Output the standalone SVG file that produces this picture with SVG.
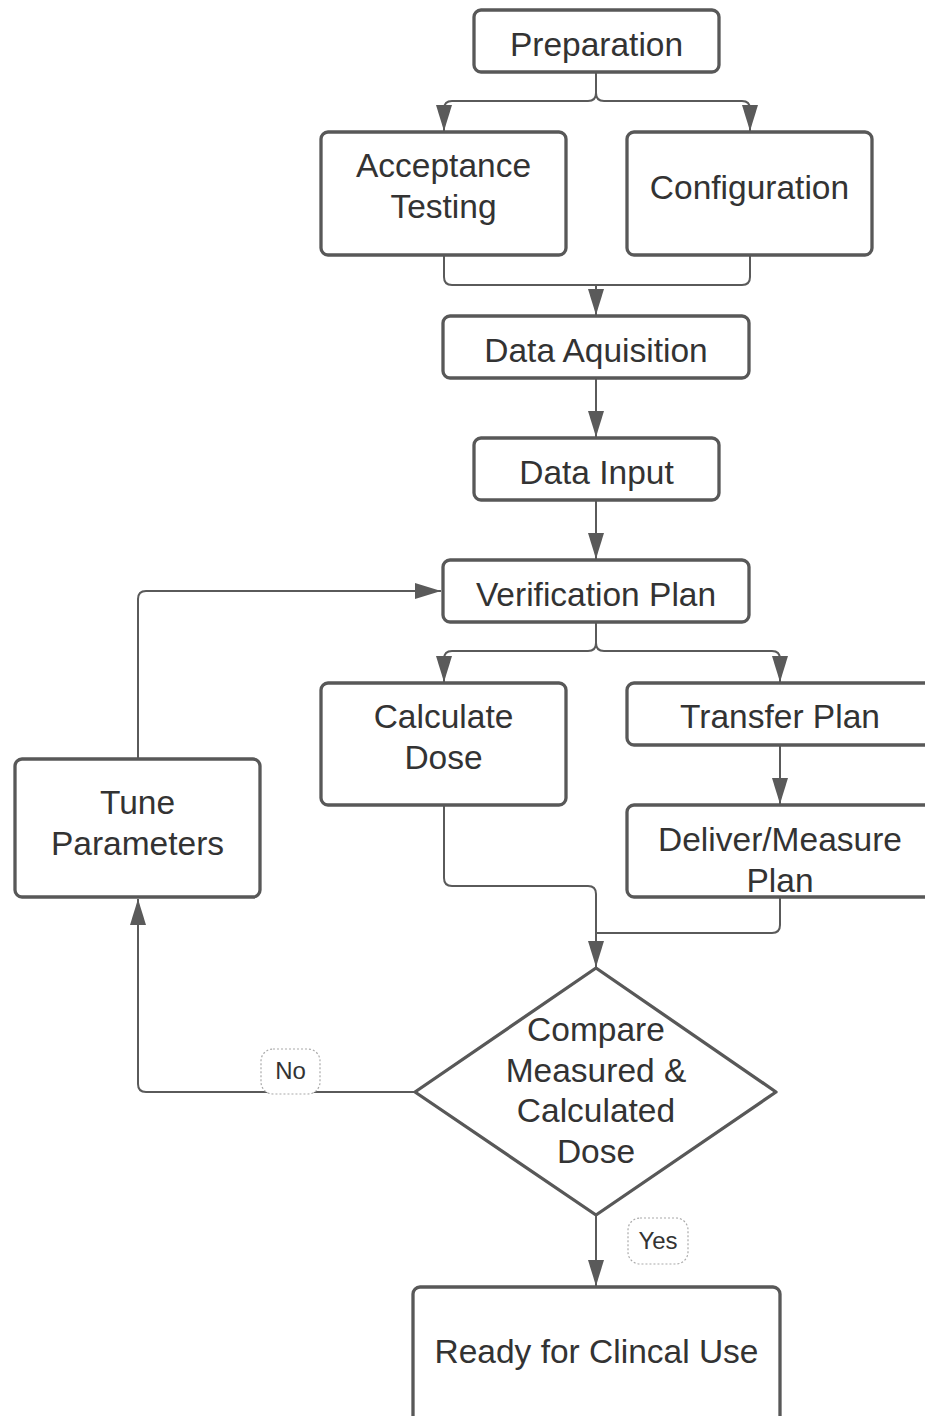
<svg xmlns="http://www.w3.org/2000/svg" width="925" height="1416" viewBox="0 0 925 1416">
<style>
.box{fill:#fff;stroke:#585858;stroke-width:3.3}
.t{font-family:"Liberation Sans",Arial,sans-serif;font-size:33.5px;fill:#333;text-anchor:middle}
.lt{font-family:"Liberation Sans",Arial,sans-serif;font-size:24px;fill:#333;text-anchor:middle}
.c{fill:none;stroke:#5a5a5a;stroke-width:2}
.a{marker-end:url(#ah)}
.lb{fill:#fff;stroke:#aaa;stroke-width:1.2;stroke-dasharray:2 2}
</style>
<defs>
<marker id="ah" markerUnits="userSpaceOnUse" markerWidth="26" markerHeight="16" refX="26" refY="8" orient="auto">
<path d="M0,0 L26,8 L0,16 z" fill="#5a5a5a"/>
</marker>
</defs>
<rect width="925" height="1416" fill="#fff"/>
<g id="connectors">
<path class="c a" d="M596,72 V93 Q596,101 588,101 H452 Q444,101 444,109 V131"/>
<path class="c a" d="M596,72 V93 Q596,101 604,101 H742 Q750,101 750,109 V131"/>
<path class="c" d="M444,256 V277 Q444,285 452,285 H742 Q750,285 750,277 V256"/>
<path class="c a" d="M596,285 V315"/>
<path class="c a" d="M596,378 V437"/>
<path class="c a" d="M596,500 V559"/>
<path class="c a" d="M596,622 V643 Q596,651 588,651 H452 Q444,651 444,659 V682"/>
<path class="c a" d="M596,622 V643 Q596,651 604,651 H772 Q780,651 780,659 V682"/>
<path class="c a" d="M780,745 V804"/>
<path class="c a" d="M444,805 V878 Q444,886 452,886 H588 Q596,886 596,894 V967"/>
<path class="c" d="M780,897 V925 Q780,933 772,933 H596"/>
<path class="c a" d="M415,1092 H146 Q138,1092 138,1084 V899"/>
<path class="c a" d="M138,759 V599 Q138,591 146,591 H441"/>
<path class="c a" d="M596,1215 V1286"/>
<g id="label-no"><rect class="lb" x="261" y="1049" width="59" height="45" rx="12"/><text class="lt" x="290.5" y="1079">No</text></g>
<g id="label-yes"><rect class="lb" x="628" y="1218" width="60" height="46" rx="12"/><text class="lt" x="658" y="1249">Yes</text></g>
</g>
<g id="preparation"><rect class="box" x="474" y="10" width="245" height="62" rx="7"/><text class="t" x="596.5" y="56">Preparation</text></g>
<g id="acceptance-testing"><rect class="box" x="321" y="132" width="245" height="123" rx="7"/><text class="t" x="443.5" y="177">Acceptance</text><text class="t" x="443.5" y="218">Testing</text></g>
<g id="configuration"><rect class="box" x="627" y="132" width="245" height="123" rx="7"/><text class="t" x="749.5" y="199">Configuration</text></g>
<g id="data-aquisition"><rect class="box" x="443" y="316" width="306" height="62" rx="7"/><text class="t" x="596" y="362">Data Aquisition</text></g>
<g id="data-input"><rect class="box" x="474" y="438" width="245" height="62" rx="7"/><text class="t" x="596.5" y="484">Data Input</text></g>
<g id="verification-plan"><rect class="box" x="443" y="560" width="306" height="62" rx="7"/><text class="t" x="596" y="606">Verification Plan</text></g>
<g id="calculate-dose"><rect class="box" x="321" y="683" width="245" height="122" rx="7"/><text class="t" x="443.5" y="728">Calculate</text><text class="t" x="443.5" y="769">Dose</text></g>
<g id="transfer-plan"><rect class="box" x="627" y="683" width="310" height="62" rx="7"/><text class="t" x="780" y="728">Transfer Plan</text></g>
<g id="deliver-measure-plan"><rect class="box" x="627" y="805" width="310" height="92" rx="7"/><text class="t" x="780" y="851">Deliver/Measure</text><text class="t" x="780" y="892">Plan</text></g>
<g id="tune-parameters"><rect class="box" x="15" y="759" width="245" height="138" rx="7"/><text class="t" x="137.5" y="814">Tune</text><text class="t" x="137.5" y="855">Parameters</text></g>
<g id="compare"><polygon class="box" points="596,968 776,1092 596,1215 415,1092" stroke-linejoin="round"/><text class="t" x="596" y="1041">Compare</text><text class="t" x="596" y="1082">Measured &amp;</text><text class="t" x="596" y="1122">Calculated</text><text class="t" x="596" y="1163">Dose</text></g>
<g id="ready"><rect class="box" x="413" y="1287" width="367" height="150" rx="7"/><text class="t" x="596.5" y="1363">Ready for Clincal Use</text></g>
</svg>
